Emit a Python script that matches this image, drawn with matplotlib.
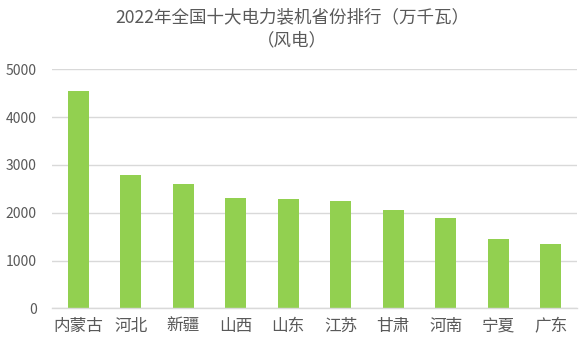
import matplotlib
matplotlib.use("Agg")
import matplotlib.pyplot as plt

plt.rcParams['font.family'] = ['Noto Sans CJK SC', 'DejaVu Sans']

categories = ["内蒙古", "河北", "新疆", "山西", "山东", "江苏", "甘肃", "河南", "宁夏", "广东"]
values = [4546, 2789, 2600, 2307, 2287, 2245, 2056, 1889, 1450, 1345]
yticks = [0, 1000, 2000, 3000, 4000, 5000]
title = "2022年全国十大电力装机省份排行（万千瓦）\n（风电）"

text_color = "#595959"
grid_color = "#d9d9d9"
bar_color = "#92d050"

fig = plt.figure(figsize=(5.86, 3.51), dpi=100)
ax = fig.add_axes([52/586, 1-308.3/351, (577-52)/586, (308.3-69.3)/351])

x = range(len(categories))
ax.bar(x, values, width=0.4, color=bar_color, zorder=3)
ax.set_xlim(-0.5, len(categories)-0.5)
ax.set_ylim(0, 5000)
ax.set_yticks(yticks)
ax.set_yticklabels([str(v) for v in yticks])
ax.set_xticks(list(x))
ax.set_xticklabels(categories)

ax.grid(axis='y', color=grid_color, linewidth=1, zorder=0)
for s in ['top', 'right', 'left']:
    ax.spines[s].set_visible(False)
ax.spines['bottom'].set_color(grid_color)
ax.spines['bottom'].set_linewidth(1)
ax.spines['bottom'].set_zorder(4)

ax.tick_params(axis='y', length=0, pad=11, labelsize=10, labelcolor=text_color)
ax.tick_params(axis='x', length=0, pad=7, labelsize=12, labelcolor=text_color)

fig.text(292/586, 1-28.5/351, title, ha='center', va='center', fontsize=12.6,
         color=text_color, linespacing=1.35)

fig.savefig("out.png", dpi=100)
